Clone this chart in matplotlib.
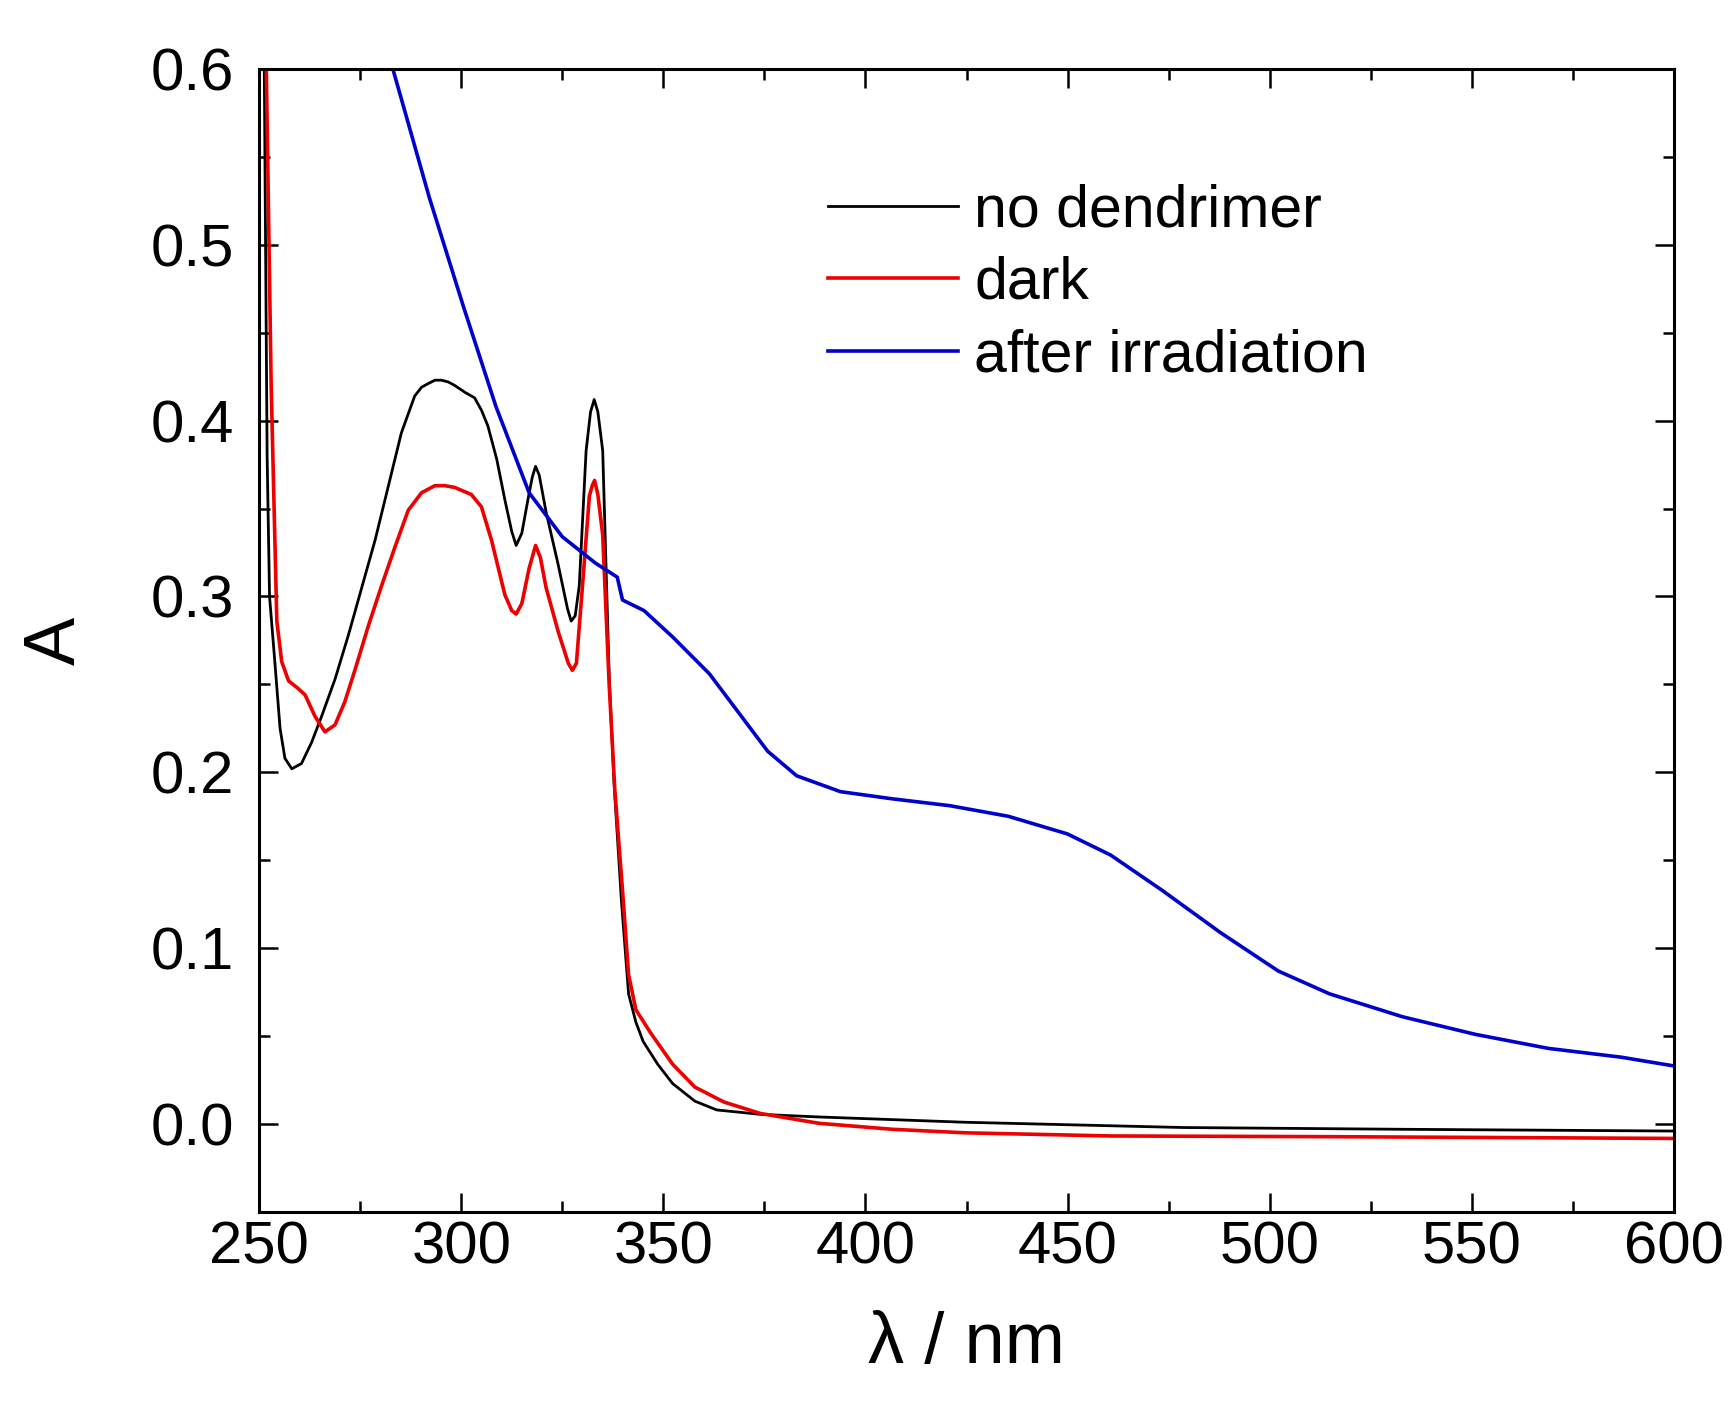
import numpy as np
import matplotlib
matplotlib.use("Agg")
import matplotlib.pyplot as plt
from matplotlib.ticker import MultipleLocator

plt.rcParams['font.family'] = ['Liberation Sans', 'DejaVu Sans']

# no dendrimer (black)
wl_black = [250.5, 251.3, 252.0, 252.6, 253.9, 255.2, 256.4, 258.1, 260.5, 263.0,
            265.5, 268.8, 272.1, 275.4, 278.7, 281.9, 285.2, 288.5, 290.2, 291.8,
            293.5, 295.1, 296.8, 298.4, 301.0, 303.3, 305.0, 306.6, 308.8, 310.8,
            312.5, 313.6, 315.0, 316.5, 317.6, 318.4, 319.3, 321.0, 324.0, 326.3,
            327.2, 328.2, 329.2, 330.9, 332.0, 332.9, 333.8, 335.0, 336.6, 337.8,
            339.6, 341.4, 343.2, 345.0, 348.6, 352.3, 357.8, 363.2, 374.0, 388.5,
            424.6, 478.7, 532.8, 600.0]
a_black = [0.90, 0.60, 0.38, 0.30, 0.263, 0.225, 0.208, 0.202, 0.205, 0.217,
           0.232, 0.253, 0.278, 0.305, 0.332, 0.362, 0.393, 0.414, 0.419, 0.421,
           0.423, 0.423, 0.422, 0.420, 0.416, 0.413, 0.406, 0.397, 0.378, 0.355,
           0.337, 0.329, 0.336, 0.355, 0.368, 0.374, 0.369, 0.348, 0.318, 0.293,
           0.286, 0.289, 0.306, 0.383, 0.405, 0.412, 0.405, 0.383, 0.255, 0.194,
           0.128, 0.074, 0.058, 0.047, 0.034, 0.023, 0.013, 0.008, 0.0055, 0.004,
           0.001, -0.002, -0.003, -0.004]

# dark (red)
wl_red = [250.8, 251.8, 253.0, 254.4, 255.6, 257.3, 259.5, 261.4, 263.8, 266.3,
          268.8, 271.2, 273.7, 277.0, 280.3, 283.6, 286.9, 290.2, 293.5, 296.0,
          298.4, 302.5, 305.0, 307.5, 310.8, 312.5, 313.6, 315.0, 316.8, 318.4,
          319.6, 321.0, 324.0, 326.5, 327.5, 328.5, 330.0, 331.7, 332.4, 333.0,
          333.8, 335.0, 336.6, 338.0, 340.0, 341.4, 343.2, 346.8, 352.3, 357.8,
          365.0, 374.0, 388.5, 406.6, 424.6, 460.7, 514.8, 600.0]
a_red = [0.80, 0.60, 0.42, 0.286, 0.263, 0.252, 0.248, 0.244, 0.232, 0.223,
         0.227, 0.240, 0.258, 0.283, 0.306, 0.328, 0.349, 0.359, 0.363, 0.363,
         0.362, 0.358, 0.351, 0.332, 0.301, 0.292, 0.290, 0.296, 0.316, 0.329,
         0.322, 0.305, 0.280, 0.262, 0.258, 0.262, 0.306, 0.357, 0.363, 0.366,
         0.358, 0.335, 0.250, 0.190, 0.130, 0.085, 0.065, 0.052, 0.034, 0.021,
         0.0125, 0.006, 0.0004, -0.003, -0.005, -0.0068, -0.0072, -0.0082]

# after irradiation (blue)
wl_blue = [281.5, 283.1, 292.1, 300.4, 308.6, 316.8, 325.0, 333.2, 338.6, 339.9,
           345.2, 352.3, 361.4, 368.6, 375.8, 383.0, 393.8, 406.4, 420.9, 435.3,
           449.9, 460.6, 473.3, 487.7, 502.1, 514.8, 532.8, 550.8, 568.9, 586.9, 600.0]
a_blue = [0.613, 0.600, 0.527, 0.466, 0.408, 0.359, 0.334, 0.319, 0.311, 0.298,
          0.292, 0.277, 0.256, 0.234, 0.212, 0.198, 0.189, 0.185, 0.181, 0.175,
          0.165, 0.153, 0.133, 0.109, 0.087, 0.074, 0.061, 0.051, 0.043, 0.038, 0.033]

fig = plt.figure(figsize=(17.35, 14.04), dpi=100)
ax = fig.add_axes([0.1493, 0.1368, 0.8156, 0.8141])

ax.plot(wl_black, a_black, color="black", lw=2.0, label="no dendrimer",
        solid_joinstyle="round")
ax.plot(wl_red, a_red, color="#ee0000", lw=2.6, label="dark",
        solid_joinstyle="round")
ax.plot(wl_blue, a_blue, color="#0000cc", lw=2.6, label="after irradiation",
        solid_joinstyle="round")

ax.set_xlim(250, 600)
ax.set_ylim(-0.05, 0.6)
ax.xaxis.set_major_locator(MultipleLocator(50))
ax.xaxis.set_minor_locator(MultipleLocator(25))
ax.yaxis.set_major_locator(MultipleLocator(0.1))
ax.yaxis.set_minor_locator(MultipleLocator(0.05))
ax.yaxis.set_major_formatter(plt.FormatStrFormatter("%.1f"))

ax.tick_params(which="both", direction="in", top=True, right=True, width=1.8)
ax.tick_params(which="major", length=14, labelsize=43)
ax.tick_params(which="minor", length=8)
ax.tick_params(axis="x", which="major", pad=6)
ax.tick_params(axis="y", which="major", pad=18)
for s in ax.spines.values():
    s.set_linewidth(2.2)

ax.set_xlabel("λ / nm", fontsize=52, labelpad=26)
ax.set_ylabel("A", fontsize=52, labelpad=44)

ax.legend(loc="upper left", bbox_to_anchor=(0.402, 0.9), frameon=False,
          fontsize=42.5, handlelength=2.2, handletextpad=0.28, labelspacing=0.3,
          borderpad=0, borderaxespad=0)

fig.savefig("out.png", dpi=100)
